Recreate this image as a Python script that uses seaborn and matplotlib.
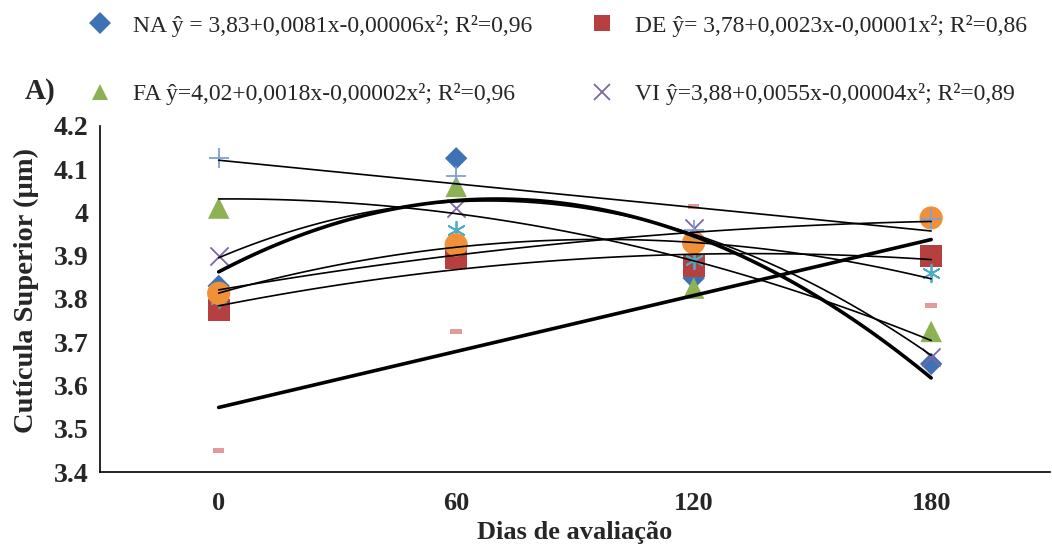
import numpy as np
import pandas as pd
import matplotlib
matplotlib.use("Agg")
import matplotlib.pyplot as plt
import seaborn as sns
from matplotlib.ticker import FormatStrFormatter, FixedLocator

sns.set_style("white")
plt.rcParams['font.family'] = ['Liberation Serif', 'DejaVu Serif']

# data
dias = [0, 60, 120, 180]
na = [3.83, 4.125, 3.848, 3.65]
de = [3.775, 3.895, 3.876, 3.90]
fa = [4.01, 4.06, 3.825, 3.725]
vi = [3.90, 4.01, 3.964, 3.665]
cyan_s = [3.80, 3.96, 3.89, 3.86]
orange_s = [3.813, 3.925, 3.93, 3.987]
plus_s = [4.125, 4.085, 3.96, 3.985]
pink_s = [3.45, 3.725, 4.013, 3.785]

lbl_na = "NA ŷ = 3,83+0,0081x-0,00006x²; R²=0,96"
lbl_de = "DE ŷ= 3,78+0,0023x-0,00001x²; R²=0,86"
lbl_fa = "FA ŷ=4,02+0,0018x-0,00002x²; R²=0,96"
lbl_vi = "VI ŷ=3,88+0,0055x-0,00004x²; R²=0,89"

rect = [(-1, -0.45), (1, -0.45), (1, 0.45), (-1, 0.45), (-1, -0.45)]

# (values, label, marker, color, size, trend order, trend width)
series = [
    (na, lbl_na, 'D', '#3F72B5', 130, 2, 2.6),
    (de, lbl_de, 's', '#B5403F', 250, 2, 1.2),
    (fa, lbl_fa, '^', '#8DB253', 240, 2, 1.2),
    (vi, lbl_vi, 'x', '#7E64A8', 170, 2, 1.2),
    (cyan_s, None, (6, 2, 0), '#4BACC6', 160, 2, 1.2),
    (orange_s, None, 'o', '#F0913A', 280, 2, 1.2),
    (plus_s, None, '+', '#7F9FD8', 200, 1, 1.2),
    (pink_s, None, rect, '#E39A9C', 70, 1, 2.6),
]

fig = plt.figure(figsize=(10.52, 5.47), dpi=100)
ax = fig.add_axes([0.095, 0.137, 0.903, 0.633])

handles = {}
for vals, lab, mk, col, sz, order, lw in series:
    df = pd.DataFrame({'dias': dias, 'val': vals})
    lw_m = 1.3 if mk in ['+', 'x'] or isinstance(mk, tuple) else 0
    sns.scatterplot(data=df, x='dias', y='val', marker=mk, color=col, s=sz,
                    linewidth=lw_m, edgecolor=col if lw_m else 'none', ax=ax, zorder=3)
    if lab is not None:
        handles[lab] = plt.Line2D([], [], ls='', marker=mk, color=col,
                                  markersize=11, markeredgewidth=1.3 if lw_m else 0)

for vals, lab, mk, col, sz, order, lw in series:
    sns.regplot(x=np.array(dias), y=np.array(vals), order=order, ci=None, scatter=False,
                color='black', line_kws={'lw': lw, 'zorder': 4}, truncate=True, ax=ax)

ax.set_xlim(-30, 210)
ax.set_ylim(3.4, 4.2)
ax.set_yticks(np.arange(3.4, 4.21, 0.1))
ax.yaxis.set_major_formatter(FormatStrFormatter('%g'))
ax.set_xticks(dias)
ax.xaxis.set_minor_locator(FixedLocator([-30, 30, 90, 150, 210]))
ax.tick_params(axis='x', which='major', length=0, pad=14, labelsize=19)
ax.tick_params(axis='x', which='minor', length=6, width=1.2, direction='out', color='black')
ax.tick_params(axis='y', which='major', length=5, width=1.2, direction='out', color='black', labelsize=20, pad=3)
for t in ax.get_xticklabels() + ax.get_yticklabels():
    t.set_fontweight('bold')
sns.despine(ax=ax)
ax.spines['left'].set_color('black')
ax.spines['bottom'].set_color('black')
ax.spines['left'].set_linewidth(1.2)
ax.spines['bottom'].set_linewidth(1.2)
ax.set_xlabel('Dias de avaliação', fontsize=19, fontweight='bold', labelpad=5)
ax.set_ylabel('Cutícula Superior (µm)', fontsize=20.5, fontweight='bold')
ax.yaxis.set_label_coords(-0.064, 0.525)

order_lbl = [lbl_na, lbl_fa, lbl_de, lbl_vi]
fig.legend([handles[k] for k in order_lbl], order_lbl, ncol=2, loc='upper left',
           bbox_to_anchor=(0.064, 1.012), frameon=False, fontsize=17,
           handlelength=1.0, handletextpad=0.9, columnspacing=2.45, labelspacing=1.98)

fig.text(0.024, 0.82, 'A)', fontsize=21, fontweight='bold')

fig.savefig('out.png', dpi=100)
